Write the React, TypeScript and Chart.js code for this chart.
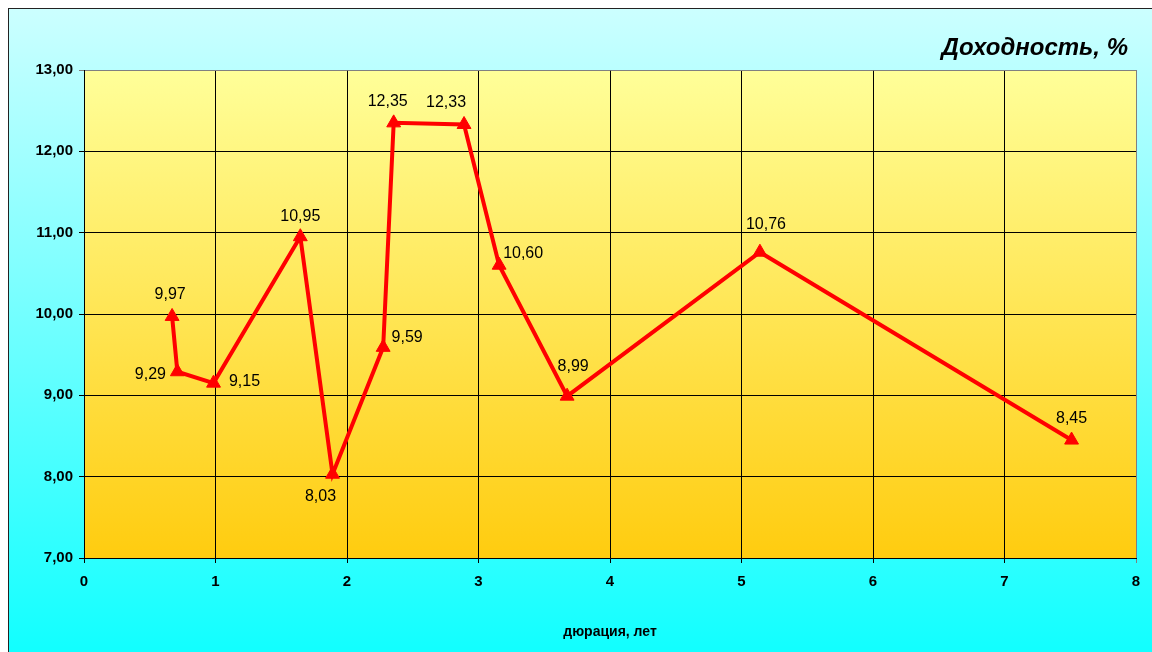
import React, { useEffect, useRef } from "react";
import { Chart, registerables } from "chart.js";

Chart.register(...registerables);

const durations = [0.67, 0.71, 0.985, 1.645, 1.89, 2.275, 2.355, 2.89, 3.157, 3.674, 5.14, 7.51];
const yields = [9.97, 9.29, 9.15, 10.95, 8.03, 9.59, 12.35, 12.33, 10.6, 8.99, 10.76, 8.45];
const labelDx = [-2, -27, 31, 0, -12, 24, -6, -18, 24, 6, 6, 0];
const labelDy = [-22, 3, -2, -20, 22, -10, -21, -22, -12, -30, -28, -21];
const yTicks = [7, 8, 9, 10, 11, 12, 13];
const xTicks = [0, 1, 2, 3, 4, 5, 6, 7, 8];
const chartTitle = "Доходность, %";
const xTitle = "дюрация, лет";

const FONT = "'Liberation Sans', Arial, sans-serif";

const fmt = (v: number) => v.toFixed(2).replace(".", ",");

export default function App() {
  const ref = useRef<HTMLCanvasElement | null>(null);

  useEffect(() => {
    const canvas = ref.current;
    if (!canvas) return;

    const bgPlugin = {
      id: "plotBg",
      beforeDraw(chart: any) {
        const { ctx, chartArea: a } = chart;
        const g = ctx.createLinearGradient(0, a.top, 0, a.bottom);
        g.addColorStop(0, "#FFFF99");
        g.addColorStop(1, "#FFCC0F");
        ctx.save();
        ctx.fillStyle = g;
        ctx.fillRect(a.left, a.top, a.right - a.left, a.bottom - a.top);
        ctx.restore();
      },
    };

    const textPlugin = {
      id: "texts",
      afterDatasetsDraw(chart: any) {
        const { ctx } = chart;
        const meta = chart.getDatasetMeta(0);
        ctx.save();
        ctx.fillStyle = "#000";
        ctx.font = `16px ${FONT}`;
        ctx.textAlign = "center";
        ctx.textBaseline = "middle";
        meta.data.forEach((pt: any, i: number) => {
          ctx.fillText(fmt(yields[i]), pt.x + labelDx[i], pt.y + labelDy[i]);
        });
        ctx.restore();
      },
      afterDraw(chart: any) {
        const { ctx, chartArea: a } = chart;
        ctx.save();
        ctx.fillStyle = "#000";
        ctx.font = `italic bold 24px ${FONT}`;
        ctx.textAlign = "right";
        ctx.textBaseline = "middle";
        ctx.fillText(chartTitle, a.right - 8, 39);
        ctx.font = `bold 14px ${FONT}`;
        ctx.textAlign = "center";
        ctx.fillText(xTitle, 601, 623);
        ctx.restore();
      },
    };

    const chart = new Chart(canvas, {
      type: "line",
      data: {
        datasets: [
          {
            data: durations.map((d, i) => ({ x: d, y: yields[i] })),
            borderColor: "#FF0000",
            backgroundColor: "#FF0000",
            borderWidth: 4,
            pointStyle: "triangle",
            pointRadius: 8,
            pointBorderWidth: 1,
            tension: 0,
            fill: false,
          },
        ],
      },
      options: {
        animation: false,
        responsive: false,
        maintainAspectRatio: false,
        layout: { padding: { top: 61, right: 16, left: 0, bottom: 0 } },
        plugins: {
          legend: { display: false },
          tooltip: { enabled: false },
          title: { display: false },
        },
        scales: {
          x: {
            type: "linear",
            min: xTicks[0],
            max: xTicks[xTicks.length - 1],
            afterBuildTicks: (s: any) => {
              s.ticks = xTicks.map((v) => ({ value: v }));
            },
            afterFit: (s: any) => {
              s.height = 94;
            },
            ticks: {
              color: "#000",
              font: { family: FONT, size: 15, weight: "bold" },
              padding: 10,
              callback: (v: any) => String(v),
            },
            grid: {
              color: (c: any) => (c.tick && c.tick.value === 8 ? "#808080" : "#000"),
              lineWidth: 1,
              tickLength: 5,
            },
            border: { color: "#000", width: 1 },
          },
          y: {
            type: "linear",
            min: yTicks[0],
            max: yTicks[yTicks.length - 1],
            afterBuildTicks: (s: any) => {
              s.ticks = yTicks.map((v) => ({ value: v }));
            },
            afterFit: (s: any) => {
              s.width = 75;
            },
            ticks: {
              color: "#000",
              font: { family: FONT, size: 15, weight: "bold" },
              padding: 6,
              callback: (v: any) => fmt(Number(v)),
            },
            grid: {
              color: (c: any) => (c.tick && c.tick.value === 13 ? "#808080" : "#000"),
              lineWidth: 1,
              tickLength: 5,
            },
            border: { color: "#000", width: 1 },
          },
        },
      },
      plugins: [bgPlugin, textPlugin],
    } as any);

    return () => chart.destroy();
  }, []);

  return (
    <div
      style={{
        position: "fixed",
        left: 8,
        top: 8,
        width: 1143,
        height: 643,
        borderLeft: "1px solid #222",
        borderTop: "1px solid #222",
        background: "linear-gradient(to bottom, #CCFFFF, #11FFFF)",
        overflow: "hidden",
      }}
    >
      <canvas ref={ref} width={1143} height={643} style={{ display: "block" }} />
    </div>
  );
}
